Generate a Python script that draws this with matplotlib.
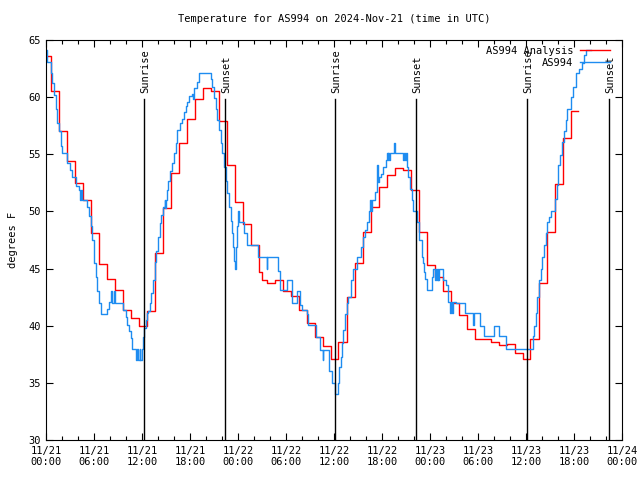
import numpy as np
import matplotlib
matplotlib.use('Agg')
import matplotlib.pyplot as plt
from matplotlib.ticker import MultipleLocator

plt.rcParams['font.family'] = 'DejaVu Sans Mono'
plt.rcParams['font.size'] = 7.5

# hours since 2024-11-21 00:00 UTC
analysis_t = [0.0, 0.67, 1.67, 2.67, 3.67, 4.67, 5.67, 6.67, 7.67, 8.67, 9.67, 10.67,
              11.67, 12.67, 13.67, 14.67, 15.67, 16.67, 17.67, 18.67, 19.67, 20.67, 21.67,
              22.67, 23.67, 24.67, 25.67, 26.67, 27.0, 27.67, 28.67, 29.67, 30.67, 31.67,
              32.67, 33.67, 34.67, 35.67, 36.5, 37.67, 38.67, 39.67, 40.67, 41.67, 42.67,
              43.67, 44.67, 45.67, 46.67, 47.67, 48.67, 49.67, 50.67, 51.67, 52.67, 53.67,
              54.67, 55.67, 56.67, 57.67, 58.67, 59.67, 60.5, 61.6, 62.67, 63.67, 64.67,
              65.67, 66.5]
analysis_temp = [63.6, 60.5, 57.0, 54.4, 52.5, 51.0, 48.1, 45.4, 44.1, 43.1, 41.4, 40.7,
                 40.0, 41.3, 46.4, 50.3, 53.4, 56.0, 58.1, 59.8, 60.8, 60.5, 57.9,
                 54.1, 50.8, 48.9, 47.1, 44.7, 44.0, 43.7, 44.0, 43.0, 42.6, 41.4,
                 40.2, 39.0, 38.2, 37.1, 38.6, 42.5, 45.5, 48.2, 50.4, 52.1, 53.2,
                 53.8, 53.6, 51.9, 48.2, 45.3, 44.3, 43.0, 42.0, 40.9, 39.7, 38.8,
                 38.8, 38.6, 38.3, 38.4, 37.6, 37.1, 38.8, 43.7, 48.2, 52.4, 56.4,
                 58.8, 58.8]

obs_t = [0.0, 0.17, 0.58, 0.79, 1.0, 1.2, 1.42, 1.62, 1.83, 2.04, 2.67, 3.0, 3.3, 3.7,
         4.1, 4.25, 4.33, 4.45, 5.17, 5.4, 5.58, 5.8, 6.0, 6.2, 6.42, 6.6, 6.9, 7.67,
         7.9, 8.08, 8.2, 8.5, 8.6, 9.6, 9.96, 10.17, 10.4, 10.6, 10.8, 11.25, 11.4,
         11.5, 11.7, 11.8, 11.96, 12.17, 12.3, 12.5, 12.6, 12.75, 13.0, 13.17, 13.42,
         13.58, 13.8, 14.0, 14.2, 14.42, 14.6, 14.83, 14.9, 14.95, 15.08, 15.3, 15.5,
         15.8, 16.0, 16.2, 16.42, 16.75, 17.04, 17.25, 17.46, 17.67, 17.9, 18.3, 18.4,
         18.5, 18.83, 19.1, 20.58, 20.8, 21.0, 21.2, 21.42, 21.6, 21.83, 22.04, 22.25,
         22.46, 22.67, 22.9, 23.08, 23.2, 23.33, 23.5, 23.63, 23.75, 23.83, 24.0, 24.17,
         24.8, 25.08, 26.54, 27.58, 27.67, 29.04, 29.25, 30.17, 30.7, 31.42, 31.75,
         31.96, 32.58, 32.8, 33.75, 34.25, 34.58, 34.67, 35.42, 35.7, 36.08, 36.46,
         36.67, 36.83, 36.96, 37.17, 37.38, 37.58, 37.8, 38.08, 38.42, 38.83, 39.42,
         39.67, 39.83, 40.08, 40.38, 40.5, 40.6, 40.7, 40.92, 41.13, 41.33, 41.4, 41.5,
         41.63, 41.92, 42.17, 42.46, 42.6, 42.7, 42.8, 42.9, 43.0, 43.5, 43.6, 44.6,
         44.7, 44.85, 44.95, 45.08, 45.25, 45.5, 45.8, 45.92, 46.33, 46.67, 46.96,
         47.08, 47.25, 47.38, 47.58, 47.67, 48.2, 48.42, 48.6, 48.7, 48.85, 48.95,
         49.04, 49.13, 49.58, 50.0, 50.21, 50.29, 50.5, 50.6, 50.71, 50.9, 51.25,
         52.38, 53.42, 53.5, 54.25, 54.75, 56.04, 56.63, 57.5, 60.83, 61.04, 61.2,
         61.42, 61.63, 61.83, 62.04, 62.25, 62.46, 62.67, 62.88, 63.08, 63.63, 63.83,
         64.04, 64.25, 64.54, 64.75, 64.96, 65.17, 65.58, 65.92, 66.2, 66.63, 67.04,
         67.25, 67.46, 68.17]
obs_temp = [64.1, 63.1, 62.1, 61.2, 60.2, 59.0, 57.7, 57.0, 55.7, 55.1, 54.2, 53.6, 53.0, 52.2,
            51.9, 51.0, 51.9, 51.0, 50.4, 49.6, 48.7, 47.5, 45.5, 44.3, 43.0, 42.0, 41.0, 41.5,
            42.1, 43.0, 42.0, 43.0, 42.0, 41.4, 40.8, 40.1, 39.5, 38.9, 38.0, 37.0, 38.0,
            37.0, 38.0, 37.0, 38.0, 39.0, 39.8, 40.5, 41.1, 41.3, 42.0, 42.9, 44.0,
            45.6, 46.5, 47.8, 49.0, 49.7, 50.4, 51.0, 50.3, 51.0, 51.9, 52.7, 53.5,
            54.2, 55.1, 56.0, 57.1, 57.7, 58.1, 58.7, 59.2, 59.6, 60.1, 60.3, 59.8,
            60.8, 61.3, 62.1, 61.6, 60.9, 59.9, 59.0, 58.0, 57.1, 56.0, 55.1, 53.9,
            52.7, 51.6, 50.4, 49.2, 48.1, 46.9, 45.7, 45.0, 46.9, 48.7, 50.0, 49.1,
            48.1, 47.1, 46.0, 45.0, 46.0, 44.8, 43.1, 44.0, 42.0, 43.0, 41.8,
            41.4, 41.0, 40.1, 39.0, 37.9, 37.0, 37.9, 36.0, 35.0, 34.0, 35.0,
            36.4, 37.3, 38.5, 39.6, 41.0, 42.0, 42.5, 44.0, 45.0, 46.0, 46.9,
            47.8, 48.4, 49.1, 50.0, 51.0, 50.0, 51.0, 51.0, 51.7, 52.6, 54.1, 52.6,
            53.0, 53.3, 53.9, 54.5, 55.1, 54.5, 55.1, 54.5, 55.1, 56.0, 55.1, 54.5,
            55.1, 54.5, 55.1, 53.9, 53.0, 52.0, 51.0, 50.0, 49.1, 47.5, 46.0,
            45.5, 44.7, 44.1, 43.6, 43.1, 44.3, 45.0, 44.0, 45.0, 44.0, 45.0,
            44.0, 45.0, 44.0, 43.6, 43.1, 42.1, 41.1, 42.1, 41.1, 42.1, 42.0,
            41.1, 40.1, 41.1, 40.0, 39.1, 40.0, 39.1, 38.0, 39.1, 40.0, 41.1,
            42.5, 44.0, 45.0, 46.0, 47.1, 48.1, 49.1, 49.5, 50.0, 51.1, 52.3,
            54.1, 54.9, 56.1, 57.0, 58.0, 59.0, 60.0, 60.9, 62.1, 62.5, 63.0,
            63.7, 64.1, 64.1]

sun_t = [12.29, 22.41, 36.16, 46.29, 60.16, 70.34]
sun_labels = ['Sunrise', 'Sunset', 'Sunrise', 'Sunset', 'Sunrise', 'Sunset']

tick_hours = [0, 6, 12, 18, 24, 30, 36, 42, 48, 54, 60, 66, 72]
tick_labels = ['11/21\n00:00', '11/21\n06:00', '11/21\n12:00', '11/21\n18:00',
               '11/22\n00:00', '11/22\n06:00', '11/22\n12:00', '11/22\n18:00',
               '11/23\n00:00', '11/23\n06:00', '11/23\n12:00', '11/23\n18:00',
               '11/24\n00:00']

fig = plt.figure(figsize=(6.4, 4.8), dpi=100)
ax = fig.add_axes([46 / 640, 40 / 480, 576 / 640, 400 / 480])

ax.plot(analysis_t, analysis_temp, drawstyle='steps-post', color='#ff0000', lw=1.0,
        label='AS994 Analysis')
ax.plot(obs_t, obs_temp, drawstyle='steps-post', color='#1e8cf0', lw=1.0, label='AS994')

for t, lab in zip(sun_t, sun_labels):
    ax.plot([t, t], [30, 59.8], color='black', lw=1.0)
    ax.text(t + 0.15, 60.35, lab, rotation=90, ha='center', va='bottom')

ax.set_xlim(0, 72)
ax.set_ylim(30, 65)
ax.set_xticks(tick_hours)
ax.set_xticklabels(tick_labels)
ax.xaxis.set_minor_locator(MultipleLocator(2))
ax.set_yticks(np.arange(30, 66, 5))
ax.tick_params(which='both', direction='in', top=True, right=True, labelsize=7.5)
ax.tick_params(which='major', length=5, width=0.8, pad=4)
ax.tick_params(which='minor', length=3, width=0.8)

ax.set_ylabel('degrees F', labelpad=7)
ax.set_title('Temperature for AS994 on 2024-Nov-21 (time in UTC)', fontsize=7.5, pad=13)

ax.legend(loc='upper right', bbox_to_anchor=(610 / 640, 1 - 46 / 480),
          bbox_transform=fig.transFigure, frameon=False, markerfirst=False,
          handlelength=2.85, handletextpad=0.7, borderaxespad=0, borderpad=0,
          labelspacing=0.2, fontsize=7.5)

fig.savefig('out.png', dpi=100)
